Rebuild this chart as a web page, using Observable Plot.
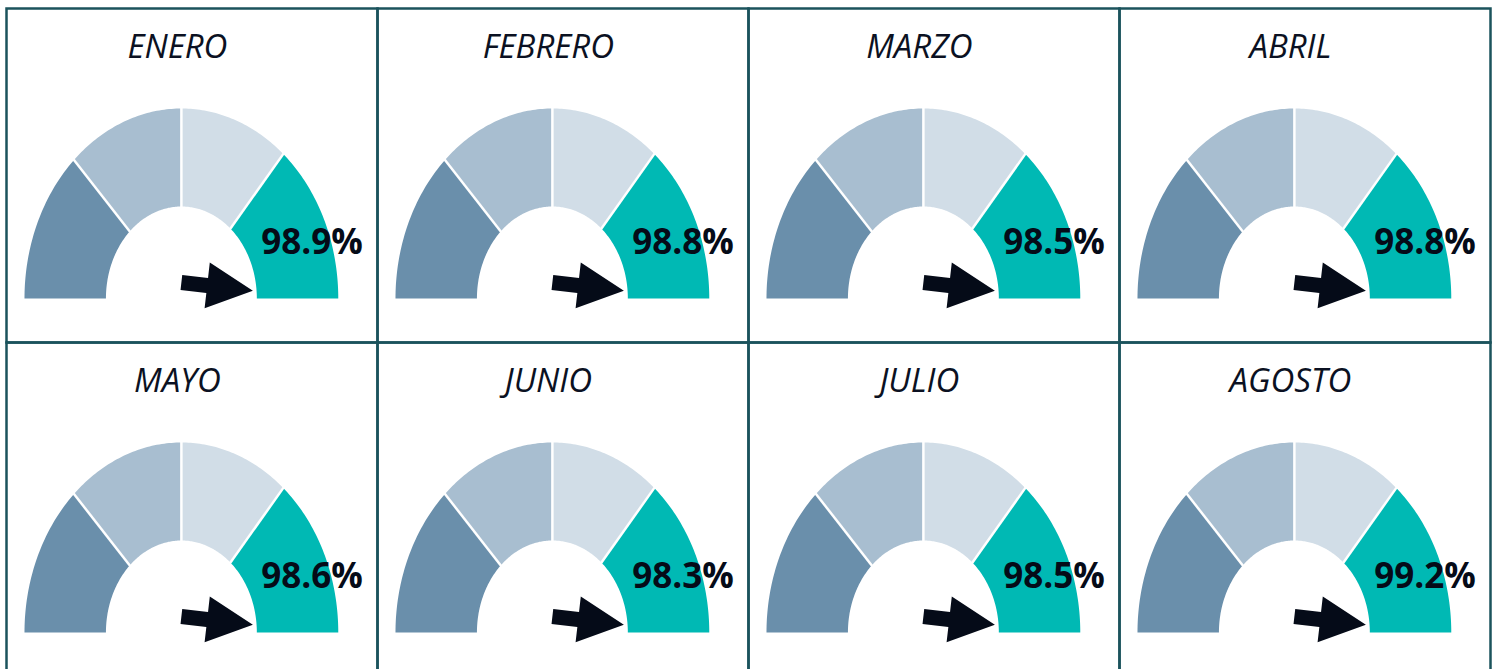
<!DOCTYPE html>
<html><head><meta charset="utf-8">
<script src="https://cdn.jsdelivr.net/npm/d3@7"></script>
<script src="https://cdn.jsdelivr.net/npm/@observablehq/plot@0.6"></script>
<style>html,body{margin:0;padding:0;background:#fff;overflow:hidden;}</style>
</head><body><div id="chart"></div>
<script>
// ---- data ----
const months = ["ENERO","FEBRERO","MARZO","ABRIL","MAYO","JUNIO","JULIO","AGOSTO"];
const values = [98.9, 98.8, 98.5, 98.8, 98.6, 98.3, 98.5, 99.2];
const bandStops = [0, 26, 50, 72.5, 100];          // gauge bands, % of dial
const bandColors = ["#6a8fab", "#a8bed0", "#d1dde7", "#00b9b4"];

// ---- geometry (dial drawn in a px-like data space, y up) ----
const RX = 157, RY = 190, IRX = 75.5, IRY = 92;
const ang = v => Math.PI * (1 - v / 100);
const cols = 4;
const panels = months.map((m, i) => ({month: m, value: values[i], col: i % cols, row: Math.floor(i / cols)}));

const bandPts = [];
const seps = [];
panels.forEach(p => {
  for (let k = 0; k < bandStops.length - 1; k++) {
    const a0 = ang(bandStops[k]), a1 = ang(bandStops[k + 1]);
    const n = 48;
    for (let j = 0; j <= n; j++) {
      const a = a0 + (a1 - a0) * j / n;
      bandPts.push({...p, k, x: RX * Math.cos(a), y: RY * Math.sin(a)});
    }
    for (let j = n; j >= 0; j--) {
      const a = a0 + (a1 - a0) * j / n;
      bandPts.push({...p, k, x: IRX * Math.cos(a), y: IRY * Math.sin(a)});
    }
  }
  bandStops.slice(1, -1).forEach(s => {
    const a = ang(s);
    seps.push({...p, x1: IRX * Math.cos(a) * 0.98, y1: IRY * Math.sin(a) * 0.98, x2: RX * Math.cos(a) * 1.02, y2: RY * Math.sin(a) * 1.02});
  });
});

// needle (block arrow)
const needle = {angle: -6.5, length: 72, shaftHalf: 7.5, headHalf: 23, headLen: 46, tailY: 16};
const arrowPts = [];
panels.forEach(p => {
  const t = needle.angle * Math.PI / 180;
  const ux = Math.cos(t), uy = Math.sin(t), nx = -uy, ny = ux;
  const P = (s, w) => ({...p, x: s * ux + w * nx, y: needle.tailY + s * uy + w * ny});
  const b = needle.length - needle.headLen;
  [P(0, needle.shaftHalf), P(b, needle.shaftHalf), P(b, needle.headHalf), P(needle.length, 0),
   P(b, -needle.headHalf), P(b, -needle.shaftHalf), P(0, -needle.shaftHalf)].forEach(q => arrowPts.push(q));
});

const marks = [];
bandColors.forEach((c, k) => {
  marks.push(Plot.line(bandPts.filter(d => d.k === k), {x: "x", y: "y", z: "month", fx: "col", fy: "row", fill: c, stroke: "none"}));
});
marks.push(Plot.link(seps, {x1: "x1", y1: "y1", x2: "x2", y2: "y2", fx: "col", fy: "row", stroke: "white", strokeWidth: 2.5}));
marks.push(Plot.line(arrowPts, {x: "x", y: "y", z: "month", fx: "col", fy: "row", fill: "#050b18", stroke: "none"}));
marks.push(Plot.text(panels, {x: () => 80, y: () => 56, fx: "col", fy: "row", text: d => d.value.toFixed(1) + "%",
  textAnchor: "start", fontWeight: "bold", fontSize: 35, fill: "#050b18"}));
marks.push(Plot.text(panels, {x: () => -4, y: () => 251, fx: "col", fy: "row", text: "month",
  fontStyle: "italic", fontSize: 33, fill: "#0b1122"}));
marks.push(Plot.frame({stroke: "#1b535c", strokeWidth: 2.5}));

const chart = Plot.plot({
  width: 1497, height: 676,
  marginLeft: 5, marginRight: 7, marginTop: 8, marginBottom: 0,
  style: {fontFamily: "'Open Sans', sans-serif", background: "white"},
  x: {domain: [-175, 196.25], axis: null},
  y: {domain: [-44, 290], axis: null},
  fx: {domain: [0, 1, 2, 3], padding: 0, axis: null},
  fy: {domain: [0, 1], padding: 0, axis: null},
  marks
});
document.getElementById("chart").appendChild(chart);
</script>
</body></html>
